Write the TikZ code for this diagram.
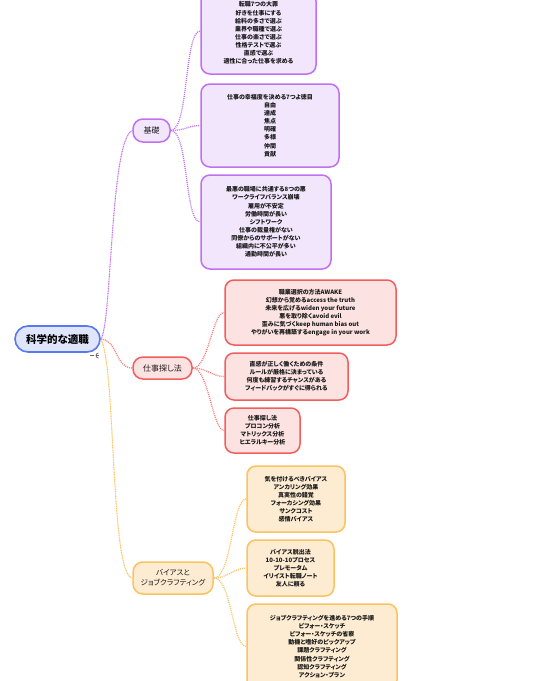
\documentclass[tikz,border=0pt]{standalone}
\usepackage{fontspec}
\setmainfont{Noto Sans CJK JP}[RawFeature=+palt]
\usetikzlibrary{backgrounds}
\definecolor{purD}{HTML}{C070F0}
\definecolor{purL}{HTML}{F2E6FD}
\definecolor{redD}{HTML}{F25E5E}
\definecolor{redL}{HTML}{FDE2E2}
\definecolor{oraD}{HTML}{FBC25E}
\definecolor{oraL}{HTML}{FDECD2}
\definecolor{bluD}{HTML}{5A78F0}
\definecolor{bluL}{HTML}{DFE5FB}
\tikzset{
  txtbox/.style={draw, line width=1.5pt, rounded corners=9pt, align=center,
    inner sep=0pt, font=\fontsize{6}{8.1}\selectfont\bfseries, text=black!90},
  pbox/.style={txtbox, draw=purD, fill=purL},
  rbox/.style={txtbox, draw=redD, fill=redL},
  obox/.style={txtbox, draw=oraD, fill=oraL},
  branch/.style={draw, line width=1.5pt, rounded corners=10pt, align=center,
    inner sep=0pt, font=\fontsize{8}{10}\selectfont, text=black!90},
  link/.style={line width=1.3pt, dash pattern=on 1pt off 1pt},
  rootlink/.style={line width=1.1pt, dash pattern=on 1pt off 0.7pt},
}
\begin{document}
\begin{tikzpicture}[x=1pt,y=-1pt]
\useasboundingbox (0,0) rectangle (540,681);
\begin{scope}
\clip (0,0) rectangle (540,681);
% root
\node[draw=bluD, fill=bluL, line width=1.6pt, rounded corners=13pt, minimum width=85pt, minimum height=26pt, inner sep=0pt, font=\fontsize{10.5}{12}\selectfont\bfseries] (root) at (57.5,339) {科学的な適職};
% branches
\node[branch, draw=purD, fill=purL, minimum width=37pt, minimum height=23pt] (kiso) at (151.5,130.5) {基礎};
\node[branch, draw=redD, fill=redL, minimum width=59pt, minimum height=22pt] (sagashi) at (162.5,368) {仕事探し法};
\node[branch, draw=oraD, fill=oraL, minimum width=80pt, minimum height=32pt, font=\fontsize{7.5}{10}\selectfont] (bias) at (173,578) {バイアスと\\ジョブクラフティング};
% purple boxes
\node[pbox, minimum width=115pt, minimum height=82pt] (b1) at (258.5,33) {転職7つの大罪\\好きを仕事にする\\給料の多さで選ぶ\\業界や職種で選ぶ\\仕事の楽さで選ぶ\\性格テストで選ぶ\\直感で選ぶ\\適性に合った仕事を求める};
\node[pbox, minimum width=138pt, minimum height=83pt] (b2) at (270,125.5) {仕事の幸福度を決める7つよ徳目\\自由\\達成\\焦点\\明確\\多様\\仲間\\貢献};
\node[pbox, minimum width=130pt, minimum height=94pt] (b3) at (266,222) {最悪の職場に共通する8つの悪\\ワークライフバランス崩壊\\雇用が不安定\\労働時間が長い\\シフトワーク\\仕事の裁量権がない\\同僚からのサポートがない\\組織内に不公平が多い\\通勤時間が長い};
% red boxes
\node[rbox, minimum width=171pt, minimum height=65pt] (b4) at (310.5,312.5) {職業選択の方法AWAKE\\幻想から覚めるaccess the truth\\未来を広げるwiden your future\\悪を取り除くavoid evil\\歪みに気づくkeep human bias out\\やりがいを再構築するengage in your work};
\node[rbox, minimum width=123pt, minimum height=47pt] (b5) at (286.5,376.5) {直感が正しく働くための条件\\ルールが厳格に決まっている\\何度も練習するチャンスがある\\フィードバックがすぐに得られる};
\node[rbox, minimum width=75pt, minimum height=45pt] (b6) at (262.5,430.5) {仕事探し法\\プロコン分析\\マトリックス分析\\ヒエラルキー分析};
% orange boxes
\node[obox, minimum width=98pt, minimum height=66pt] (b7) at (296,499) {気を付けるべきバイアス\\アンカリング効果\\真実性の錯覚\\フォーカシング効果\\サンクコスト\\感情バイアス};
\node[obox, minimum width=87pt, minimum height=56pt] (b8) at (290.5,568) {バイアス脱出法\\10-10-10プロセス\\プレモータム\\イリイスト転職ノート\\友人に頼る};
\node[obox, minimum width=150pt, minimum height=85pt] (b9) at (322,646.5) {ジョブクラフティングを進める7つの手順\\ビフォー・スケッチ\\ビフォー・スケッチの省察\\動機と嗜好のピックアップ\\課題クラフティング\\関係性クラフティング\\認知クラフティング\\アクション・プラン};
% collapse icon near root
\draw[black!60, line width=0.6pt] (90,355.5) -- (94,355.5);
\draw[black!60, line width=0.7pt] (98.5,353) arc[start angle=90, end angle=270, radius=2.5pt];
\draw[black!60, line width=0.5pt] (95.5,355.5) -- (98.5,355.5);
\begin{scope}[on background layer]
\fill[white] (0,0) rectangle (540,681);
\draw[rootlink, purD] (root.east) .. controls (112,325) and (110,140) .. (kiso.west);
\draw[link, redD!80] (root.east) .. controls (118,340) and (115,368) .. (sagashi.west);
\draw[rootlink, oraD] (root.east) .. controls (116,365) and (110,575) .. (bias.west);
\draw[link, purD] (kiso.east) .. controls +(18,0) and +(-16,0) .. ([yshift=2pt]b1.west);
\draw[link, purD] (kiso.east) .. controls +(15,0) and +(-12,0) .. (b2.west);
\draw[link, purD] (kiso.east) .. controls +(18,0) and +(-16,0) .. (b3.west);
\draw[link, redD!80] (sagashi.east) .. controls +(16,0) and +(-12,0) .. (b4.west);
\draw[link, redD!80] (sagashi.east) .. controls +(14,0) and +(-12,0) .. (b5.west);
\draw[link, redD!80] (sagashi.east) .. controls +(16,0) and +(-12,0) .. (b6.west);
\draw[link, oraD] (bias.east) .. controls +(18,0) and +(-14,0) .. (b7.west);
\draw[link, oraD] (bias.east) .. controls +(14,0) and +(-12,0) .. (b8.west);
\draw[link, oraD] (bias.east) .. controls +(18,0) and +(-14,0) .. (b9.west);
\end{scope}
\end{scope}
\end{tikzpicture}
\end{document}
